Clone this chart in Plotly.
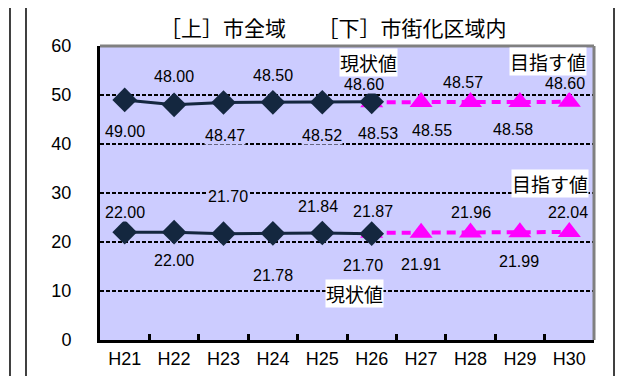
"""Chart: [上]市全域 / [下]市街化区域内, current vs target values."""

import plotly.graph_objects as go

YEARS = ["H21", "H22", "H23", "H24", "H25", "H26", "H27", "H28", "H29", "H30"]

# upper series: city-wide
upper_actual_years = ["H21", "H22", "H23", "H24", "H25", "H26"]
upper_actual = [49.00, 48.00, 48.47, 48.50, 48.52, 48.60]
upper_target_years = ["H26", "H27", "H28", "H29", "H30"]
upper_target = [48.53, 48.55, 48.57, 48.58, 48.60]

# lower series: urbanization area
lower_actual_years = ["H21", "H22", "H23", "H24", "H25", "H26"]
lower_actual = [22.00, 22.00, 21.70, 21.78, 21.84, 21.70]
lower_target_years = ["H26", "H27", "H28", "H29", "H30"]
lower_target = [21.87, 21.91, 21.96, 21.99, 22.04]

# label placement (pixel shifts), hand-placed as in the original
upper_actual_shift = [(0, -32), (0, 28), (1, -33), (0, 27), (0, -33), (-8, 17)]
upper_target_shift = [(6, -31), (11, -28), (-8, 20), (-7, -28), (-4, 18)]
lower_actual_shift = [(0, 20), (0, -28), (4, 37), (0, -42), (-4, 26), (-9, -32)]
lower_target_shift = [(1, 21), (0, -32), (0, 20), (-1, -29), (-1, 20)]

NAVY = "#14273F"
PINK = "#FF00FF"
BG = "#CCCCFF"
NUM_FONT = "Liberation Sans, Arial, sans-serif"
JP_FONT = "Noto Sans CJK JP, sans-serif"

fig = go.Figure()

for xs, ys in [(upper_target_years, upper_target), (lower_target_years, lower_target)]:
    fig.add_trace(go.Scatter(
        x=xs, y=ys, mode="lines+markers",
        line=dict(color=PINK, width=4, dash="9px,6px"),
        marker=dict(symbol="triangle-up", size=20, color=PINK),
        hoverinfo="skip", showlegend=False,
    ))

for xs, ys in [(upper_actual_years, upper_actual), (lower_actual_years, lower_actual)]:
    fig.add_trace(go.Scatter(
        x=xs, y=ys, mode="lines+markers",
        line=dict(color=NAVY, width=3),
        marker=dict(symbol="diamond", size=19, color=NAVY),
        hoverinfo="skip", showlegend=False,
    ))

# data labels
for xs, ys, shifts in [
    (upper_actual_years, upper_actual, upper_actual_shift),
    (upper_target_years, upper_target, upper_target_shift),
    (lower_actual_years, lower_actual, lower_actual_shift),
    (lower_target_years, lower_target, lower_target_shift),
]:
    for x, y, (dx, dy) in zip(xs, ys, shifts):
        fig.add_annotation(
            x=x, y=y, text=f"{y:.2f}", showarrow=False,
            xshift=dx, yshift=dy, bgcolor=BG, borderpad=0,
            font=dict(family=NUM_FONT, size=16, color="black"),
        )

# series captions
for x, y, txt in [(4.93, 56.7, "現状値"), (8.57, 56.9, "目指す値"),
                  (8.61, 32.0, "目指す値"), (4.66, 9.4, "現状値")]:
    fig.add_annotation(
        x=x, y=y, text=txt, showarrow=False, bgcolor="white", borderpad=0,
        font=dict(family=JP_FONT, size=19, color="black"),
    )

fig.add_annotation(
    xref="paper", yref="paper", x=0.4727, y=1.065, yanchor="middle",
    text="［上］市全域　　［下］市街化区域内", showarrow=False,
    font=dict(family=JP_FONT, size=21, color="black"),
)

# plot-area border (top/right grey) and the page frame lines
fig.add_shape(type="line", xref="paper", yref="paper", x0=0, x1=1, y0=1, y1=1,
              line=dict(color="#808080", width=3), layer="above")
fig.add_shape(type="line", xref="paper", yref="paper", x0=1, x1=1, y0=0, y1=1,
              line=dict(color="#808080", width=3), layer="above")
for fx in [-0.1822, -0.1498, 1.0405]:
    fig.add_shape(type="line", xref="paper", yref="paper", x0=fx, x1=fx,
                  y0=-0.3, y1=1.3, line=dict(color="black", width=1.5))

fig.update_xaxes(
    type="category", categoryarray=YEARS, range=[-0.5, 9.5], automargin=False,
    showline=True, linecolor="black", linewidth=3,
    ticks="inside", tickson="boundaries", ticklen=6, tickwidth=3, tickcolor="black",
    showgrid=False, zeroline=False,
    tickfont=dict(family=NUM_FONT, size=18, color="black"),
)
fig.update_yaxes(
    range=[0, 60], dtick=10, automargin=False,
    showline=True, linecolor="black", linewidth=3,
    showgrid=True, gridcolor="black", gridwidth=2, griddash="4px,2px",
    zeroline=False, ticks="", ticklabelstandoff=22,
    tickfont=dict(family=NUM_FONT, size=18, color="black"),
)

# page body adds ~8px offset, so margins are shifted to compensate
fig.update_layout(
    width=627, height=376,
    margin=dict(l=92, r=41, t=38, b=44, autoexpand=False),
    plot_bgcolor=BG, paper_bgcolor="white",
    showlegend=False,
)

fig.write_html("out.html")
